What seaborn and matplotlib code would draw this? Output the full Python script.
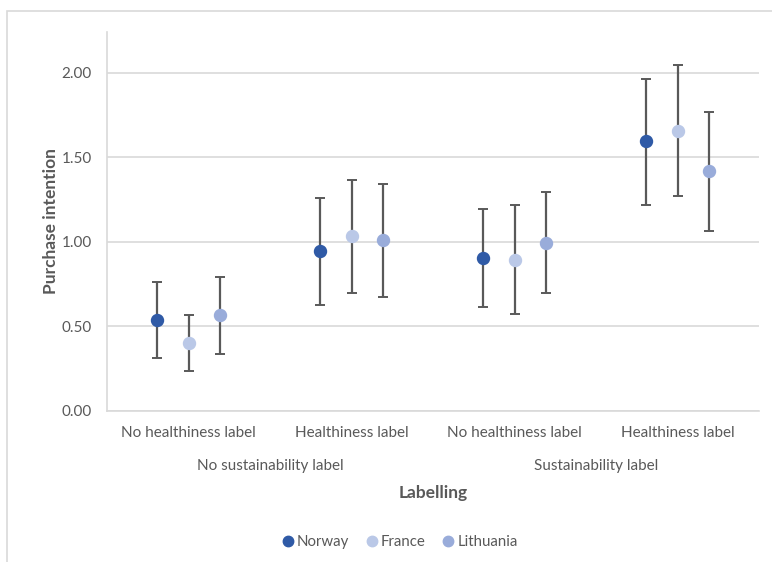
import numpy as np
import pandas as pd
import matplotlib
matplotlib.use("Agg")
import matplotlib.pyplot as plt
from matplotlib.lines import Line2D
from matplotlib.patches import Rectangle
import seaborn as sns

# Health label condition (inner axis) and sustainability label condition (outer axis)
health_labels = ["No healthiness label", "Healthiness label",
                 "No healthiness label", "Healthiness label"]
sustain_labels = ["No sustainability label", "Sustainability label"]
countries = ["Norway", "France", "Lithuania"]

# Mean purchase intention with lower / upper error limits, per condition
norway_mean = [0.54, 0.945, 0.905, 1.595]
norway_low = [0.315, 0.625, 0.615, 1.215]
norway_high = [0.76, 1.26, 1.195, 1.965]

france_mean = [0.40, 1.035, 0.895, 1.655]
france_low = [0.235, 0.70, 0.575, 1.27]
france_high = [0.565, 1.365, 1.215, 2.045]

lithuania_mean = [0.565, 1.01, 0.995, 1.42]
lithuania_low = [0.335, 0.675, 0.70, 1.065]
lithuania_high = [0.79, 1.34, 1.295, 1.765]

y_ticks = [0.0, 0.5, 1.0, 1.5, 2.0]
colors = ["#2F5AA6", "#BAC8E7", "#99ACDA"]
grey_text = "#595959"
grid_col = "#D9D9D9"

condition = ["c0", "c1", "c2", "c3"]
rows = []
for name, m, lo, hi in [("Norway", norway_mean, norway_low, norway_high),
                        ("France", france_mean, france_low, france_high),
                        ("Lithuania", lithuania_mean, lithuania_low, lithuania_high)]:
    for c, mv, lv, hv in zip(condition, m, lo, hi):
        rows.append({"condition": c, "country": name, "mean": mv, "low": lv, "high": hv})
df = pd.DataFrame(rows)

sns.set_theme(style="white")
plt.rcParams["font.family"] = ["Lato", "DejaVu Sans"]

fig = plt.figure(figsize=(7.72, 5.62), dpi=100)
ax = fig.add_axes([107 / 772, 1 - 411 / 562, (759 - 107) / 772, (411 - 32) / 562])

sns.pointplot(data=df, x="condition", y="mean", hue="country", order=condition,
              hue_order=countries, palette=colors, dodge=0.39, errorbar=None,
              linestyle="none", markers="o", markersize=7.6, ax=ax, zorder=3)

# error bars placed on the dodged positions of each country's points
for line, country in zip(ax.lines[:3], countries):
    xs = np.asarray(line.get_xdata(), dtype=float)
    sub = df[df["country"] == country].set_index("condition").loc[condition]
    yerr = np.vstack([sub["mean"] - sub["low"], sub["high"] - sub["mean"]])
    ax.errorbar(xs, sub["mean"], yerr=yerr, fmt="none", ecolor=grey_text,
                elinewidth=1.6, capsize=3.8, capthick=1.4, zorder=2)

ax.set_xlim(-0.5, 3.5)
ax.set_ylim(0, 2.24)
ax.set_yticks(y_ticks)
ax.set_yticklabels([f"{v:.2f}" for v in y_ticks])
ax.set_xticks(range(4))
ax.set_xticklabels(health_labels)
ax.tick_params(axis="both", length=0, colors=grey_text, labelsize=11)
ax.tick_params(axis="x", pad=11)
ax.tick_params(axis="y", pad=11)
ax.yaxis.grid(True, color=grid_col, linewidth=1.2)
ax.set_axisbelow(True)
for side in ["top", "right"]:
    ax.spines[side].set_visible(False)
for side in ["left", "bottom"]:
    ax.spines[side].set_color(grid_col)
    ax.spines[side].set_linewidth(1.2)

ax.set_xlabel("")
ax.set_ylabel("Purchase intention", fontsize=12.5, fontweight="bold",
              color=grey_text, labelpad=2)

# outer level of the category axis
trans = ax.get_xaxis_transform()
for pos, lab in zip([0.5, 2.5], sustain_labels):
    ax.text(pos, -0.146, lab, transform=trans, ha="center", va="center",
            fontsize=11, color=grey_text)
ax.text(1.5, -0.217, "Labelling", transform=trans, ha="center", va="center",
        fontsize=12.5, fontweight="bold", color=grey_text)

leg = ax.get_legend()
if leg is not None:
    leg.remove()
handles = [Line2D([], [], linestyle="none", marker="o", markersize=7.5,
                  markerfacecolor=c, markeredgecolor=c) for c in colors]
fig.legend(handles, countries, loc="center", bbox_to_anchor=(399 / 772, 1 - 542 / 562),
           ncol=3, frameon=False, fontsize=10.8, labelcolor=grey_text,
           handletextpad=0.1, columnspacing=1.0, handlelength=1.0)

# chart area border
fig.patches.append(Rectangle((7 / 772, -0.1), 1.2, 1.1 - 11 / 562, transform=fig.transFigure,
                             fill=False, edgecolor=grid_col, linewidth=1.2))

fig.savefig("out.png", dpi=100)
